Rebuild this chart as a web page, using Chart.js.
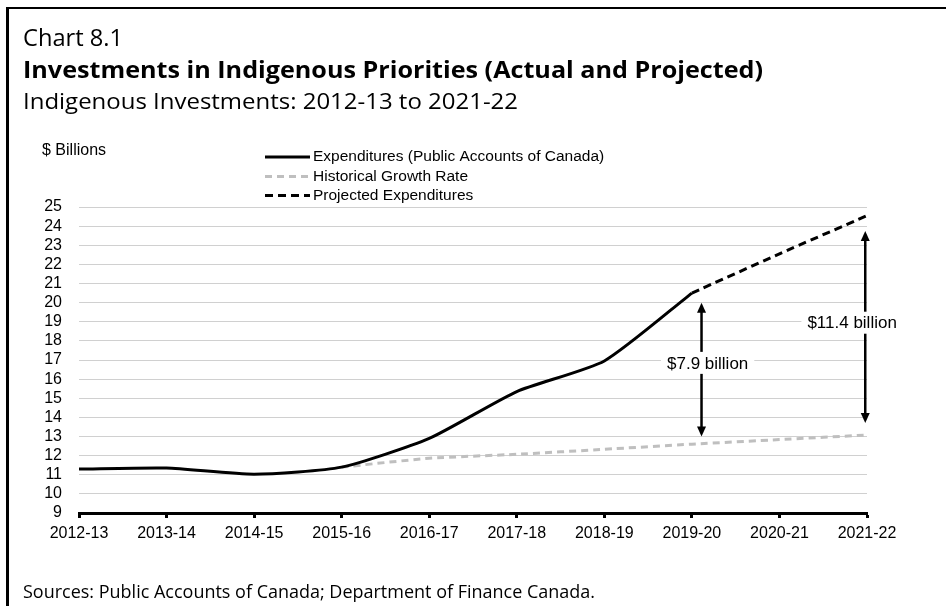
<!DOCTYPE html>
<html>
<head>
<meta charset="utf-8">
<script src="https://cdn.jsdelivr.net/npm/chart.js@4.4.1/dist/chart.umd.min.js"></script>
<style>
html, body { margin: 0; padding: 0; background: #ffffff; }
body { width: 946px; height: 606px; overflow: hidden; position: relative; }
#frame { position: absolute; left: 6px; top: 7px; width: 980px; height: 640px;
         border-left: 3px solid #000; border-top: 2px solid #000; }
#c { position: absolute; left: 0; top: 0; }
</style>
</head>
<body>
<div id="frame"></div>
<canvas id="c" width="946" height="606"></canvas>
<script>
// ---------------- data ----------------
const categories = ['2012-13', '2013-14', '2014-15', '2015-16', '2016-17', '2017-18', '2018-19', '2019-20', '2020-21', '2021-22'];
const expenditures = [11.3, 11.35, 11.03, 11.4, 12.9, 15.35, 16.95, 20.5, null, null];
const historicalGrowth = [null, null, null, 11.4, 11.86, 12.07, 12.33, 12.6, 12.84, 13.08];
const projectedExpenditures = [null, null, null, null, null, null, null, 20.5, 22.55, 24.55];
const seriesNames = ['Expenditures (Public Accounts of Canada)', 'Historical Growth Rate', 'Projected Expenditures'];
const yMin = 9, yMax = 25, yStep = 1;
const gapLabels = ['$7.9 billion', '$11.4 billion'];
const gapTop = [20.0, 23.75];
const gapBottom = [13.0, 13.7];

const chartNumber = 'Chart 8.1';
const chartTitle = 'Investments in Indigenous Priorities (Actual and Projected)';
const chartSubtitle = 'Indigenous Investments: 2012-13 to 2021-22';
const unitLabel = '$ Billions';
const sourceNote = 'Sources: Public Accounts of Canada; Department of Finance Canada.';

// ---------------- layout / styles ----------------
const HEAD_FONT = '"Open Sans", "Noto Sans", sans-serif';
const CHART_FONT = '"Liberation Sans", Arial, sans-serif';
const gapLayout = [
  { arrowX: 7.11, labelX: 7.18, labelY: 16.85 },
  { arrowX: 8.98, labelX: 8.83, labelY: 18.95 }
];
const legendRows = [157, 176.5, 195.5];

// draw text with given size, squeezed/stretched horizontally to a target width
function drawFitted(ctx, text, weight, size, targetWidth, x, y) {
  ctx.font = weight + ' ' + size + 'px ' + HEAD_FONT;
  const w = ctx.measureText(text).width;
  ctx.save();
  ctx.translate(x, y);
  ctx.scale(targetWidth / w, 1);
  ctx.fillText(text, 0, 0);
  ctx.restore();
}

const decorPlugin = {
  id: 'decor',
  afterDraw(chart) {
    const ctx = chart.ctx;
    ctx.save();
    ctx.fillStyle = '#000';
    ctx.textAlign = 'left';
    ctx.textBaseline = 'alphabetic';
    // header
    drawFitted(ctx, chartNumber, 'normal', 24, 100, 23, 46);
    drawFitted(ctx, chartTitle, 'bold', 23, 740, 23, 78);
    drawFitted(ctx, chartSubtitle, 'normal', 22, 495, 23, 109);
    drawFitted(ctx, sourceNote, 'normal', 19, 572, 23, 598);

    // unit label
    ctx.font = '16px ' + CHART_FONT;
    ctx.textBaseline = 'middle';
    ctx.fillText(unitLabel, 42, 151);

    // legend
    chart.data.datasets.forEach((ds, i) => {
      const y = legendRows[i];
      ctx.save();
      ctx.strokeStyle = ds.borderColor;
      ctx.lineWidth = 3;
      ctx.setLineDash(ds.borderDash || []);
      ctx.beginPath();
      ctx.moveTo(265, y);
      ctx.lineTo(310, y);
      ctx.stroke();
      ctx.restore();
      ctx.font = '15.5px ' + CHART_FONT;
      ctx.fillStyle = '#000';
      ctx.textBaseline = 'middle';
      ctx.fillText(ds.label, 313, y);
    });
    ctx.restore();
  },
  afterDatasetsDraw(chart) {
    const ctx = chart.ctx;
    const xs = chart.scales.x, ys = chart.scales.y;
    ctx.save();
    gapLabels.forEach((lbl, i) => {
      const L = gapLayout[i];
      const x = xs.getPixelForValue(L.arrowX);
      const yT = ys.getPixelForValue(gapTop[i]);
      const yB = ys.getPixelForValue(gapBottom[i]);
      const head = 10, hw = 4.5;
      ctx.strokeStyle = '#000';
      ctx.fillStyle = '#000';
      ctx.lineWidth = 2.5;
      ctx.beginPath();
      ctx.moveTo(x, yT + head - 1);
      ctx.lineTo(x, yB - head + 1);
      ctx.stroke();
      ctx.beginPath();
      ctx.moveTo(x, yT); ctx.lineTo(x - hw, yT + head); ctx.lineTo(x + hw, yT + head); ctx.closePath(); ctx.fill();
      ctx.beginPath();
      ctx.moveTo(x, yB); ctx.lineTo(x - hw, yB - head); ctx.lineTo(x + hw, yB - head); ctx.closePath(); ctx.fill();
      // label
      ctx.font = '17px ' + CHART_FONT;
      const lx = xs.getPixelForValue(L.labelX);
      const ly = ys.getPixelForValue(L.labelY);
      const tw = ctx.measureText(lbl).width;
      ctx.fillStyle = '#fff';
      ctx.fillRect(lx - tw / 2 - 6, ly - 11, tw + 12, 22);
      ctx.fillStyle = '#000';
      ctx.textAlign = 'center';
      ctx.textBaseline = 'middle';
      ctx.fillText(lbl, lx, ly + 1);
      ctx.textAlign = 'left';
    });
    ctx.restore();
  }
};

new Chart(document.getElementById('c'), {
  type: 'line',
  data: {
    labels: categories,
    datasets: [
      { label: seriesNames[0], data: expenditures, borderColor: '#000000', borderWidth: 3,
        pointRadius: 0, tension: 0.2, spanGaps: false },
      { label: seriesNames[1], data: historicalGrowth, borderColor: '#BFBFBF', borderWidth: 3,
        borderDash: [7, 5], pointRadius: 0, tension: 0.2 },
      { label: seriesNames[2], data: projectedExpenditures, borderColor: '#000000', borderWidth: 3,
        borderDash: [8, 5], pointRadius: 0, tension: 0.2 }
    ]
  },
  options: {
    responsive: false,
    animation: false,
    devicePixelRatio: 1,
    layout: { padding: { top: 207, left: 0, right: 79, bottom: 63 } },
    plugins: { legend: { display: false }, tooltip: { enabled: false }, title: { display: false } },
    scales: {
      x: {
        offset: false,
        grid: { display: true, drawOnChartArea: false, drawTicks: true, tickLength: 5,
                tickColor: '#000', tickWidth: 3 },
        border: { display: true, color: '#000', width: 3 },
        ticks: { color: '#000', font: { family: CHART_FONT, size: 16 }, padding: 6,
                 maxRotation: 0, autoSkip: false },
        afterFit(s) { s.height = 30; }
      },
      y: {
        min: yMin, max: yMax,
        grid: { color: '#D0D0D0', lineWidth: 1, drawTicks: false },
        border: { display: false },
        ticks: { stepSize: yStep, color: '#000', font: { family: CHART_FONT, size: 16 }, padding: 17,
                 autoSkip: false },
        afterFit(s) { s.width = 79; }
      }
    }
  },
  plugins: [decorPlugin]
});
</script>
</body>
</html>
